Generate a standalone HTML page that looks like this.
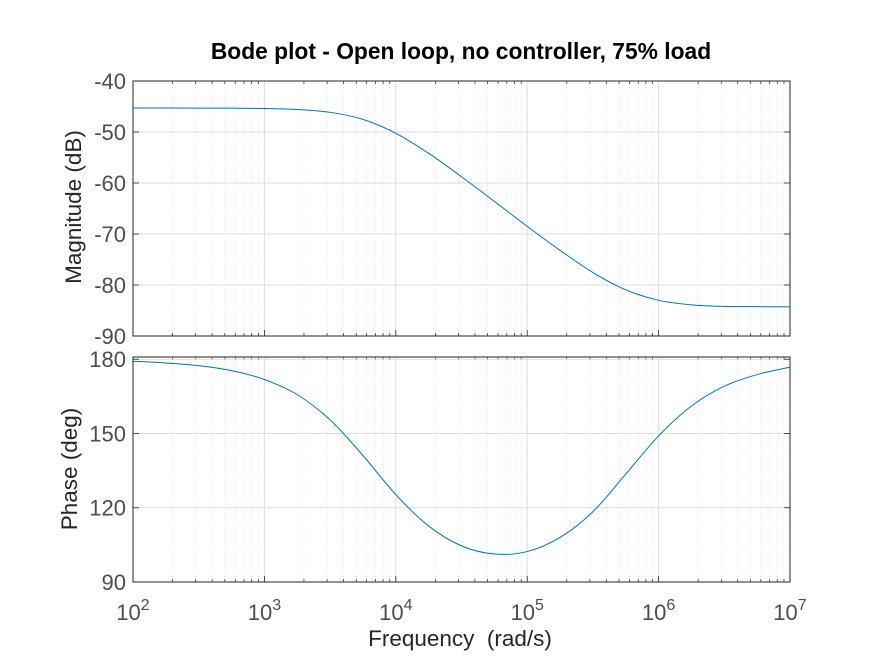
<!DOCTYPE html>
<html><head><meta charset="utf-8">
<style>
html,body{margin:0;padding:0;background:#fff;}
svg{display:block;font-family:"Liberation Sans",Arial,sans-serif;}
</style></head>
<body>
<svg id="chart" width="875" height="656" viewBox="0 0 875 656" xmlns="http://www.w3.org/2000/svg">
<rect x="0" y="0" width="875" height="656" fill="#fff"/>
<text x="461" y="59" text-anchor="middle" font-size="22.8" font-weight="bold" fill="#000">Bode plot - Open loop, no controller, 75% load</text>
<g id="mag"></g>
<g id="pha"></g>
<text transform="translate(81,207) rotate(-90)" text-anchor="middle" font-size="22.5" fill="#262626">Magnitude (dB)</text>
<text transform="translate(77,469) rotate(-90)" text-anchor="middle" font-size="22.5" fill="#262626">Phase (deg)</text>
<text x="460" y="646" text-anchor="middle" font-size="22.5" fill="#262626" xml:space="preserve">Frequency  (rad/s)</text>
</svg>
<script>
const logFreq = [2,2.25,2.5,2.75,3,3.25,3.5,3.75,4,4.25,4.5,4.75,5,5.25,5.5,5.75,6,6.25,6.5,6.75,7];
const magDb = [-45.3,-45.3,-45.31,-45.33,-45.39,-45.58,-46.14,-47.53,-50.25,-54.18,-58.77,-63.6,-68.5,-73.2,-77.56,-80.95,-83.0,-83.89,-84.2,-84.25,-84.28];
const phaseDeg = [179.2,178.5,177.4,175.4,171.8,165.7,155.5,141.1,125.3,112.6,104.6,101.3,102.3,108.0,118.4,133.6,149.0,161.1,169.1,173.8,176.8];
const magTicks = [-40,-50,-60,-70,-80,-90];
const phaseTicks = [90,120,150,180];
const decades = [2,3,4,5,6,7];

const NS='http://www.w3.org/2000/svg';
const X0=133, X1=790;
function xs(l){return X0+(l-2)/(7-2)*(X1-X0);}
function mk(tag,attrs,parent){const e=document.createElementNS(NS,tag);for(const k in attrs)e.setAttribute(k,attrs[k]);parent.appendChild(e);return e;}

function axes(g,top,bot,ymin,ymax,ticks,vals,name,showX){
  const ys=v=>bot-(v-ymin)/(ymax-ymin)*(bot-top);
  for(let d=2;d<7;d++)for(let m=2;m<10;m++){
    const x=xs(d+Math.log10(m));
    const l=mk('line',{x1:x,x2:x,y1:top,y2:bot,stroke:'#d8d8d8','stroke-width':0.6,'stroke-dasharray':'1,2'},g);
    
    
    mk('line',{x1:x,x2:x,y1:bot,y2:bot-3,stroke:'#262626','stroke-width':0.7},g);
    mk('line',{x1:x,x2:x,y1:top,y2:top+3,stroke:'#262626','stroke-width':0.7},g);
  }
  decades.forEach(d=>{
    const x=xs(d);
    const l=mk('line',{x1:x,x2:x,y1:top,y2:bot,stroke:'#dedede','stroke-width':1},g);
    
    
    mk('line',{x1:x,x2:x,y1:bot,y2:bot-6,stroke:'#262626','stroke-width':0.8},g);
    if(showX){
      const t=mk('text',{x:x,y:bot+38,'text-anchor':'middle','font-size':22,fill:'#4d4d4d'},g);
      
      
      t.textContent='10';
      const s=mk('tspan',{dy:-10,'font-size':16},t);s.textContent=String(d);
    }
  });
  ticks.forEach(v=>{
    const y=ys(v);
    const l=mk('line',{x1:X0,x2:X1,y1:y,y2:y,stroke:'#dedede','stroke-width':1},g);
    
    
    mk('line',{x1:X0,x2:X0+6,y1:y,y2:y,stroke:'#262626','stroke-width':0.8},g);
    mk('line',{x1:X1,x2:X1-6,y1:y,y2:y,stroke:'#262626','stroke-width':0.8},g);
    const t=mk('text',{x:X0-7,y:y+8,'text-anchor':'end','font-size':22,fill:'#4d4d4d'},g);
    
    
    t.textContent=String(v);
  });
  const r=mk('rect',{x:X0,y:top,width:X1-X0,height:bot-top,fill:'none',stroke:'#262626','stroke-width':1},g);
  
  
  const pts=logFreq.map((l,i)=>[xs(l),ys(vals[i])]);
  let d='M'+pts[0][0]+','+pts[0][1];
  for(let i=0;i<pts.length-1;i++){
    const p0=pts[Math.max(0,i-1)],p1=pts[i],p2=pts[i+1],p3=pts[Math.min(pts.length-1,i+2)];
    const c1=[p1[0]+(p2[0]-p0[0])/6,p1[1]+(p2[1]-p0[1])/6];
    const c2=[p2[0]-(p3[0]-p1[0])/6,p2[1]-(p3[1]-p1[1])/6];
    d+=' C'+c1+' '+c2+' '+p2;
  }
  const p=mk('path',{d:d,fill:'none',stroke:'#0072bd','stroke-width':1},g);
  
  
}
axes(document.getElementById('mag'),81,336,-90,-40,magTicks,magDb,'magnitude',false);
axes(document.getElementById('pha'),357,582,90,180.9,phaseTicks,phaseDeg,'phase',true);
</script>
</body></html>
